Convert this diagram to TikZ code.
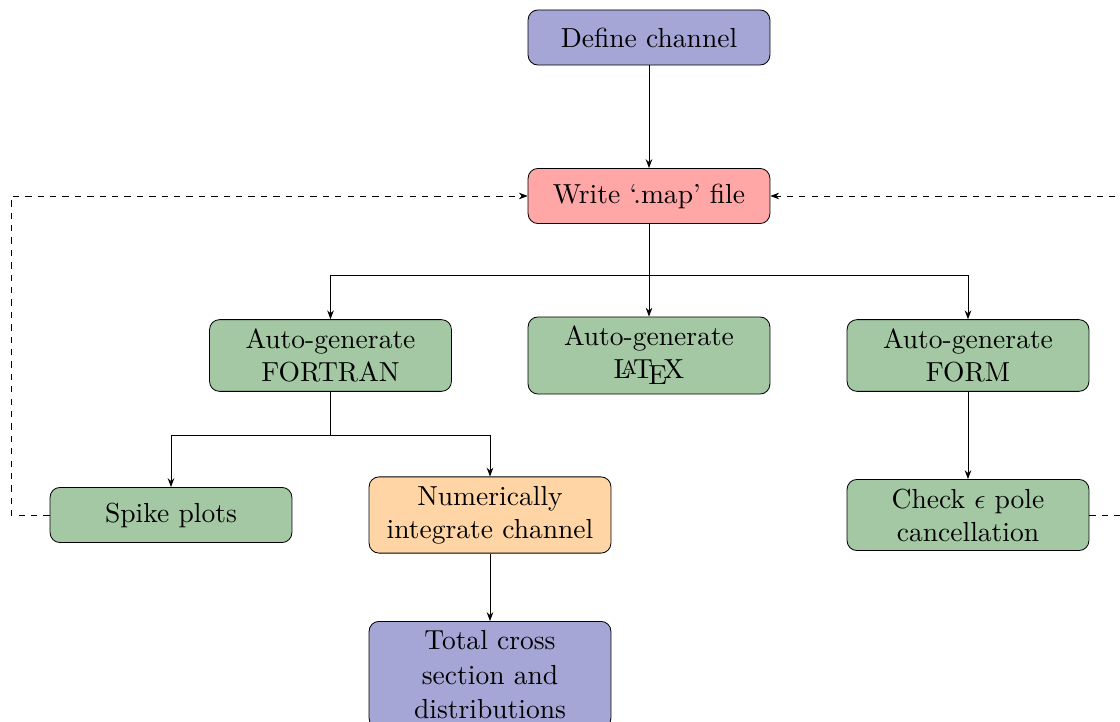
\documentclass[tikz,border=0pt]{standalone}
\usetikzlibrary{arrows.meta}
\definecolor{cblue}{RGB}{165,165,214}
\definecolor{cred}{RGB}{255,166,166}
\definecolor{cgreen}{RGB}{164,200,164}
\definecolor{corange}{RGB}{255,213,165}
\tikzset{
  box/.style={draw, rounded corners=3.6pt, align=center, minimum width=87.8pt, minimum height=20pt, inner sep=3.33pt},
  arr/.style={-{Stealth[length=3.2pt,width=2.4pt]}},
  fb/.style={dash pattern=on 2.3pt off 2.2pt, -{Stealth[length=3.2pt,width=2.4pt]}},
}
\begin{document}
\begin{tikzpicture}[x=0.363pt,y=-0.363pt,line width=0.3pt]
\useasboundingbox (0,0) rectangle (1120,722);
\node[box, fill=cblue] (define) at (649,37.5) {Define channel};
\node[box, fill=cred] (write) at (649,196) {Write `.map' file};
\node[box, fill=cgreen] (fortran) at (330.5,355.5) {Auto-generate\\FORTRAN};
\node[box, fill=cgreen] (latex) at (649,355.5) {Auto-generate\\\LaTeX};
\node[box, fill=cgreen] (form) at (968,355.5) {Auto-generate\\FORM};
\node[box, fill=cgreen] (spike) at (171,515) {Spike plots};
\node[box, fill=corange] (numer) at (490,515) {Numerically\\integrate channel};
\node[box, fill=cgreen] (check) at (968,515) {Check $\epsilon$ pole\\cancellation};
\node[box, fill=cblue, anchor=north] (total) at (490,621) {Total cross\\[0.5pt]section and\\[0.5pt]distributions};
\coordinate (b1) at (649,275);
\coordinate (b2) at (330.5,435);
\coordinate (lc) at (11,196);
\coordinate (rc) at (1135,196);
\draw[arr] (define) -- (write);
\draw[arr] (write) -- (latex);
\draw[arr] (b1) -| (fortran.north);
\draw[arr] (b1) -| (form.north);
\draw (fortran) -- (b2);
\draw[arr] (b2) -| (spike.north);
\draw[arr] (b2) -| (numer.north);
\draw[arr] (form) -- (check);
\draw[arr] (numer) -- (total);
\draw[fb] (spike.west) -| (lc) -- (write.west);
\draw[fb] (check.east) -| (rc) -- (write.east);
\end{tikzpicture}
\end{document}
